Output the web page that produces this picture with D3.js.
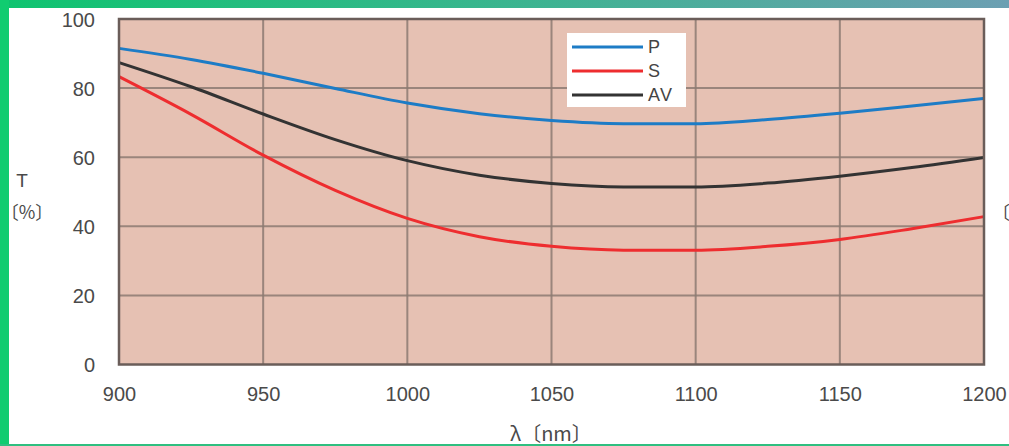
<!DOCTYPE html>
<html>
<head>
<meta charset="utf-8">
<script src="https://cdn.jsdelivr.net/npm/d3@7"></script>
<style>
  html, body { margin: 0; padding: 0; background: #fff; overflow: hidden; }
  svg { display: block; }
</style>
</head>
<body>
<div id="vis"></div>
<script>
// ── DATA ───────────────────────────────────────────────────────────────────────
const wavelengths = [900, 925, 950, 975, 1000, 1025, 1050, 1075, 1100, 1125, 1150, 1175, 1200];
const pValues  = [91.5, 88.3, 84.3, 79.9, 75.7, 72.6, 70.6, 69.7, 69.7, 70.9, 72.7, 74.8, 77.0];
const sValues  = [83.3, 72.4, 60.6, 50.4, 42.3, 37.0, 34.2, 33.1, 33.1, 34.2, 36.2, 39.3, 42.8];
const avValues = [87.4, 80.4, 72.5, 65.1, 59.0, 54.8, 52.4, 51.4, 51.4, 52.5, 54.5, 57.0, 59.9];
const xTicks = [900, 950, 1000, 1050, 1100, 1150, 1200];
const yTicks = [0, 20, 40, 60, 80, 100];
const seriesNames = ["P", "S", "AV"];

// ── CONFIG ─────────────────────────────────────────────────────────────────────
const width  = 1009;
const height = 446;
const plot = { left: 119, right: 984, top: 19, bottom: 364.5 };
const colors = { P: "#1d7cc6", S: "#ee2d2f", AV: "#333333" };
const font = "'Liberation Sans', Arial, sans-serif";
const cjk  = "'Noto Sans CJK JP', sans-serif";

const svg = d3.select("#vis").append("svg")
    .attr("width", width)
    .attr("height", height);

// page frame: green strip on top like the screenshot
const grad = svg.append("defs").append("linearGradient").attr("id", "topbar");
grad.append("stop").attr("offset", "0%").attr("stop-color", "#0ec46f");
grad.append("stop").attr("offset", "50%").attr("stop-color", "#3ab58f");
grad.append("stop").attr("offset", "100%").attr("stop-color", "#6c9fb2");
svg.append("rect").attr("x", 0).attr("y", 0).attr("width", width).attr("height", 8).attr("fill", "url(#topbar)");

// ── SCALES ─────────────────────────────────────────────────────────────────────
const x = d3.scaleLinear([900, 1200], [plot.left, plot.right]);
const y = d3.scaleLinear([0, 100], [plot.bottom, plot.top]);

// plot background
svg.append("rect")
    .attr("x", x(900)).attr("y", y(100))
    .attr("width", x(1200) - x(900)).attr("height", y(0) - y(100))
    .attr("fill", "#e6c1b3");

// grid
const grid = svg.append("g").attr("stroke", "#8c7a72").attr("stroke-width", 2).attr("stroke-opacity", 0.85);
grid.selectAll(".v").data(xTicks.slice(1, -1)).join("line")
    .attr("x1", d => x(d)).attr("x2", d => x(d))
    .attr("y1", y(100)).attr("y2", y(0));
grid.selectAll(".h").data(yTicks.slice(1, -1)).join("line")
    .attr("x1", x(900)).attr("x2", x(1200))
    .attr("y1", d => y(d)).attr("y2", d => y(d));

// ── LINES ──────────────────────────────────────────────────────────────────────
const series = [
  { name: "P",  values: pValues },
  { name: "S",  values: sValues },
  { name: "AV", values: avValues }
];

const line = d3.line()
    .x((d, i) => x(wavelengths[i]))
    .y(d => y(d))
    .curve(d3.curveMonotoneX);

svg.append("g").selectAll("path").data(series).join("path")
    .attr("fill", "none")
    .attr("stroke", d => colors[d.name])
    .attr("stroke-width", 3)
    .attr("d", d => line(d.values));

// frame border
svg.append("rect")
    .attr("x", x(900)).attr("y", y(100))
    .attr("width", x(1200) - x(900)).attr("height", y(0) - y(100))
    .attr("fill", "none")
    .attr("stroke", "#6a5d59")
    .attr("stroke-width", 2.5);

// ── AXES ───────────────────────────────────────────────────────────────────────
const yAxis = svg.append("g")
    .attr("transform", `translate(${plot.left - 24},0)`)
    .call(d3.axisLeft(y).tickValues(yTicks).tickSize(0).tickPadding(0));
yAxis.select(".domain").remove();
yAxis.selectAll("text")
    .style("font", `20px ${font}`)
    .attr("fill", "#4a4a4a")
    .attr("dy", "0.36em");

const xAxis = svg.append("g")
    .attr("transform", `translate(0,${plot.bottom + 22})`)
    .call(d3.axisBottom(x).tickValues(xTicks).tickFormat(d3.format("d")).tickSize(0).tickPadding(0));
xAxis.select(".domain").remove();
xAxis.selectAll("text")
    .style("font", `20px ${font}`)
    .attr("fill", "#4a4a4a");

// axis titles
svg.append("text")
    .attr("x", 22).attr("y", 187)
    .attr("text-anchor", "middle")
    .style("font", `19px ${font}`)
    .attr("fill", "#4a4a4a")
    .text("T");
svg.append("text")
    .attr("x", 27).attr("y", 219)
    .attr("text-anchor", "middle")
    .style("font", `18px ${cjk}`)
    .attr("fill", "#4a4a4a")
    .text("〔%〕");
svg.append("text")
    .attr("x", 551).attr("y", 441)
    .attr("text-anchor", "middle")
    .style("font", `20px ${cjk}`)
    .attr("fill", "#4a4a4a")
    .text("λ〔nm〕");
svg.append("text")
    .attr("x", 992).attr("y", 219)
    .style("font", `18px ${cjk}`)
    .attr("fill", "#4a4a4a")
    .text("〔");

// side strips, as in the screenshot
svg.append("rect").attr("x", 0).attr("y", 0).attr("width", 9).attr("height", height).attr("fill", "#10cc70");
svg.append("rect").attr("x", 0).attr("y", 444).attr("width", width).attr("height", 2).attr("fill", "#2fbf80");

// ── LEGEND ─────────────────────────────────────────────────────────────────────
const legend = svg.append("g").attr("transform", "translate(567,33)");
legend.append("rect").attr("width", 119).attr("height", 74).attr("fill", "#fff");
const item = legend.selectAll("g").data(seriesNames).join("g")
    .attr("transform", (d, i) => `translate(0,${14 + i * 24})`);
item.append("line")
    .attr("x1", 5).attr("x2", 76)
    .attr("stroke", d => colors[d])
    .attr("stroke-width", 3);
item.append("text")
    .attr("x", 81).attr("dy", "0.36em")
    .style("font", `18px ${font}`)
    .attr("fill", "#444")
    .attr("textLength", d => d === "AV" ? 24 : 12)
    .text(d => d);
</script>
</body>
</html>
